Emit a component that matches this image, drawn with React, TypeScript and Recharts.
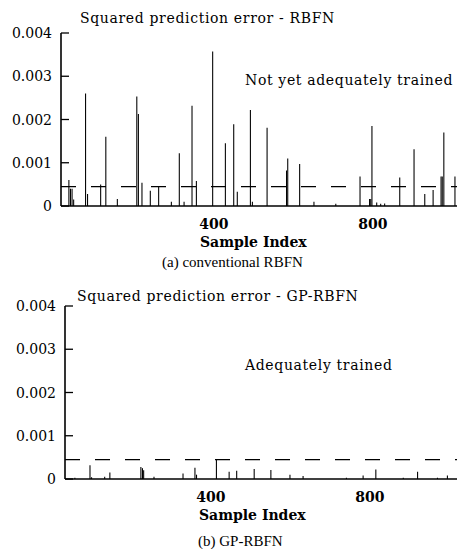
import { Bar, BarChart, ReferenceLine, XAxis, YAxis } from 'recharts';

const rbfnSamples = [35, 39, 43, 47, 77, 82, 115, 128, 157, 206, 210, 219, 240, 261, 293, 313, 325, 345, 356, 397, 429, 450, 459, 492, 497, 534, 583, 586, 616, 652, 707, 768, 792, 795, 798, 810, 820, 830, 868, 904, 931, 952, 972, 975, 979, 1007];
const rbfnError = [0.0006, 0.0004, 0.0004, 0.00015, 0.0026, 0.00028, 0.0005, 0.0016, 0.00016, 0.00253, 0.00213, 0.00054, 0.00035, 0.00046, 0.0001, 0.00122, 0.0001, 0.00232, 0.00058, 0.00357, 0.00145, 0.00189, 0.00033, 0.00222, 0.0001, 0.00181, 0.00082, 0.0011, 0.00097, 0.0001, 0.00005, 0.00068, 0.00016, 0.00016, 0.00185, 0.00008, 0.00005, 0.00006, 0.00066, 0.00131, 0.00028, 0.00037, 0.00068, 0.00068, 0.0017, 0.00068];

const gpSamples = [58, 96, 100, 133, 146, 224, 228, 231, 257, 330, 360, 364, 414, 446, 465, 509, 551, 599, 632, 741, 783, 815, 884, 920, 970, 995];
const gpError = [0.00003, 0.00032, 0.00004, 0.00005, 0.00015, 0.00028, 0.00025, 0.0002, 0.00005, 0.00013, 0.00026, 0.0001, 0.00046, 0.00017, 0.00019, 0.00023, 0.00021, 0.0001, 0.00007, 0.00003, 0.00008, 0.00022, 0.00003, 0.00017, 0.00003, 0.00008];

const yTicks = [0, 0.001, 0.002, 0.003, 0.004];
const xTicks = [400, 800];
const threshold = 0.00045;

const rbfnData = rbfnSamples.map((s, i) => ({ sample: s, error: rbfnError[i] }));
const gpData = gpSamples.map((s, i) => ({ sample: s, error: gpError[i] }));

const font = '"DejaVu Serif", serif';

function YTick({ x, y, payload }: any) {
	const v = payload.value;
	return (
		<g>
			<line x1={x} x2={x + 8} y1={y} y2={y} stroke="#000" strokeWidth={1.3} />
			<text x={x - 9} y={y} dy={5} textAnchor="end" fontFamily={font} fontSize={14} fill="#000">
				{v === 0 ? '0' : v.toFixed(3)}
			</text>
		</g>
	);
}

function XTick({ x, y, payload }: any) {
	return (
		<text x={x} y={y} dy={21} textAnchor="middle" fontFamily={font} fontSize={14} fontWeight="bold" fill="#000">
			{payload.value}
		</text>
	);
}

function ErrorPanel({ data, left, domain }: { data: any[]; left: number; domain: [number, number] }) {
	return (
		<BarChart width={457} height={255} data={data} margin={{ top: 33, right: 0, left: 0, bottom: 0 }}>
			<XAxis
				dataKey="sample"
				type="number"
				domain={domain}
				allowDataOverflow
				ticks={xTicks}
				tick={<XTick />}
				tickLine={false}
				tickSize={0}
				height={49}
				axisLine={{ stroke: '#000', strokeWidth: 1.6 }}
			/>
			<YAxis
				type="number"
				domain={[0, 0.004]}
				ticks={yTicks}
				tick={<YTick />}
				tickLine={false}
				tickSize={0}
				tickMargin={0}
				width={left}
				axisLine={{ stroke: '#000', strokeWidth: 1.6 }}
			/>
			<ReferenceLine y={threshold} stroke="#000" strokeWidth={1.3} strokeDasharray="15 15" />
			<Bar dataKey="error" fill="#000" barSize={2} isAnimationActive={false} />
		</BarChart>
	);
}

const textStyle: React.CSSProperties = {
	position: 'absolute',
	fontFamily: font,
	fontSize: 14,
	letterSpacing: 0.65,
	color: '#000',
	whiteSpace: 'nowrap',
	lineHeight: '16px',
};

const captionStyle: React.CSSProperties = {
	...textStyle,
	fontFamily: '"Liberation Serif", serif',
	fontSize: 15,
	letterSpacing: 0,
};

export default function App() {
	return (
		<div style={{ position: 'absolute', left: 0, top: 0, width: 457, height: 549, background: '#fff' }}>
			<div style={{ position: 'absolute', left: 0, top: 0 }}>
				<ErrorPanel data={rbfnData} left={61} domain={[15, 1012]} />
			</div>
			<div style={{ ...textStyle, left: 80, top: 10 }}>Squared prediction error - RBFN</div>
			<div style={{ ...textStyle, left: 245, top: 72 }}>Not yet adequately trained</div>
			<div style={{ ...textStyle, left: 200, top: 234, fontWeight: 'bold', letterSpacing: 0 }}>Sample Index</div>
			<div style={{ ...captionStyle, left: 162, top: 254 }}>(a) conventional RBFN</div>

			<div style={{ position: 'absolute', left: 0, top: 273 }}>
				<ErrorPanel data={gpData} left={65} domain={[33, 1019]} />
			</div>
			<div style={{ ...textStyle, left: 77, top: 288 }}>Squared prediction error - GP-RBFN</div>
			<div style={{ ...textStyle, left: 245, top: 357 }}>Adequately trained</div>
			<div style={{ ...textStyle, left: 199, top: 507, fontWeight: 'bold', letterSpacing: 0 }}>Sample Index</div>
			<div style={{ ...captionStyle, left: 198, top: 533 }}>(b) GP-RBFN</div>
		</div>
	);
}
